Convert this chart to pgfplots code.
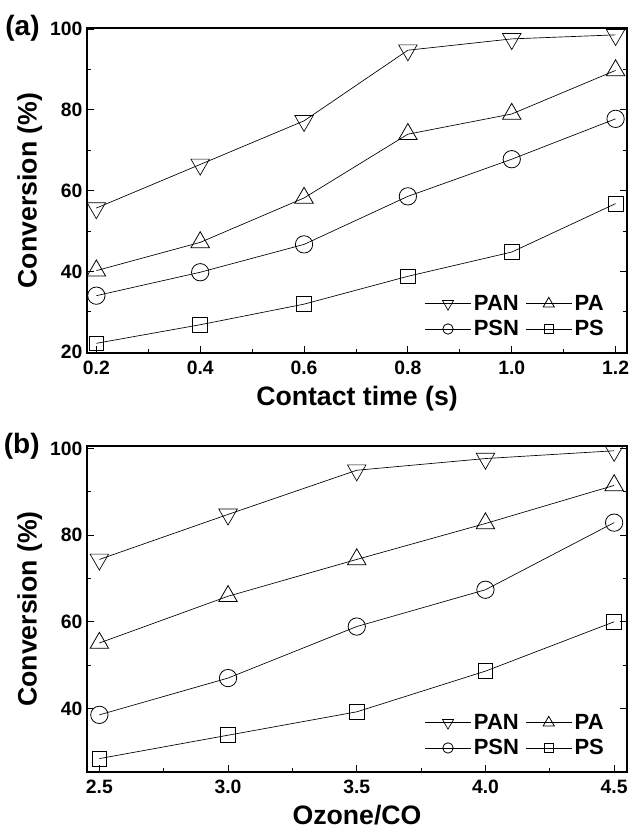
\documentclass[border=0pt]{standalone}
\usepackage{fontspec}
\setmainfont{Liberation Sans}
\usepackage{pgfplots}
\pgfplotsset{compat=1.18}

\pgfplotsset{
  convstyle/.style={
    scale only axis,
    width=405pt,
    axis line style={line width=0.9pt},
    tick align=inside,
    tick style={black, line width=0.7pt},
    major tick length=5pt,
    minor tick length=3pt,
    minor x tick num=1,
    minor y tick num=1,
    xtick pos=bottom,
    ytick pos=both,
    ytick={20,40,60,80,100},
    /pgf/number format/assume math mode=true,
    tick label style={font=\fontsize{14.5}{17}\selectfont\bfseries},
    x tick label style={yshift=-2.5pt, /pgf/number format/.cd, fixed, fixed zerofill, precision=1},
    label style={font=\fontsize{20}{24}\selectfont\bfseries},
    ylabel={Conversion (\%)},
    ylabel style={yshift=-1pt},
    legend columns=2,
    legend style={draw=none, fill=none, at={(0.97,0.03)}, anchor=south east,
      font=\fontsize{16.5}{19}\selectfont\bfseries,
      /tikz/every even column/.append style={column sep=3pt},
      row sep=2pt},
    legend image code/.code={
      \draw[mark repeat=2, mark phase=2, #1, every mark/.append style={scale=0.6}]
        plot coordinates {(0cm,0cm) (0.6cm,0cm) (1.2cm,0cm)};},
    clip=false,
  },
  pline/.style={black, line width=0.5pt, mark size=6.5pt,
      mark options={fill=white, line width=0.6pt, solid}},
}

\begin{document}
\begin{tikzpicture}
\path[use as bounding box] (-65.25pt,21pt) rectangle (407.25pt,-601.5pt);
\begin{axis}[convstyle, at={(0,0)}, anchor=north west,
  height=243.75pt,
  xmin=0.182, xmax=1.222, ymin=19.8, ymax=100.3,
  xtick={0.2,0.4,0.6,0.8,1.0,1.2},
  xlabel={Contact time (s)},
  xlabel style={yshift=-1.5pt},
]
\addplot[pline, mark=triangle, mark size=8pt, mark options={rotate=180}] coordinates {
  (0.2,55.7) (0.4,66.5) (0.6,77.3) (0.8,94.8) (1.0,97.6) (1.2,98.6)};
\addlegendentry{PAN}
\addplot[pline, mark=triangle, mark size=8pt] coordinates {
  (0.2,40.2) (0.4,47.2) (0.6,58.2) (0.8,74.0) (1.0,79.0) (1.2,89.8)};
\addlegendentry{PA}
\addplot[pline, mark=o] coordinates {
  (0.2,34.0) (0.4,39.8) (0.6,46.7) (0.8,58.6) (1.0,67.8) (1.2,77.8)};
\addlegendentry{PSN}
\addplot[pline, mark=square, mark size=5.5pt] coordinates {
  (0.2,22.2) (0.4,26.8) (0.6,31.9) (0.8,38.8) (1.0,44.8) (1.2,56.8)};
\addlegendentry{PS}
\node[anchor=east, font=\fontsize{21}{24}\selectfont\bfseries]
  at (rel axis cs:0,1) [xshift=-32pt] {(a)};
\end{axis}

\begin{axis}[convstyle, at={(0,-313.5pt)}, anchor=north west,
  height=244.5pt,
  xmin=2.452, xmax=4.55, ymin=25.3, ymax=100.6,
  ytick={40,60,80,100},
  xtick={2.5,3.0,3.5,4.0,4.5},
  xlabel={Ozone/CO},
  xlabel style={yshift=-2pt},
]
\addplot[pline, mark=triangle, mark size=8pt, mark options={rotate=180}] coordinates {
  (2.5,74.4) (3.0,84.8) (3.5,95.0) (4.0,97.7) (4.5,99.5)};
\addlegendentry{PAN}
\addplot[pline, mark=triangle, mark size=8pt] coordinates {
  (2.5,55.1) (3.0,65.9) (3.5,74.4) (4.0,82.7) (4.5,91.5)};
\addlegendentry{PA}
\addplot[pline, mark=o] coordinates {
  (2.5,38.5) (3.0,47.0) (3.5,58.9) (4.0,67.4) (4.5,82.9)};
\addlegendentry{PSN}
\addplot[pline, mark=square, mark size=5.5pt] coordinates {
  (2.5,28.4) (3.0,33.8) (3.5,39.2) (4.0,48.6) (4.5,60.0)};
\addlegendentry{PS}
\node[anchor=east, font=\fontsize{21}{24}\selectfont\bfseries]
  at (rel axis cs:0,1) [xshift=-32pt] {(b)};
\end{axis}
\end{tikzpicture}
\end{document}
